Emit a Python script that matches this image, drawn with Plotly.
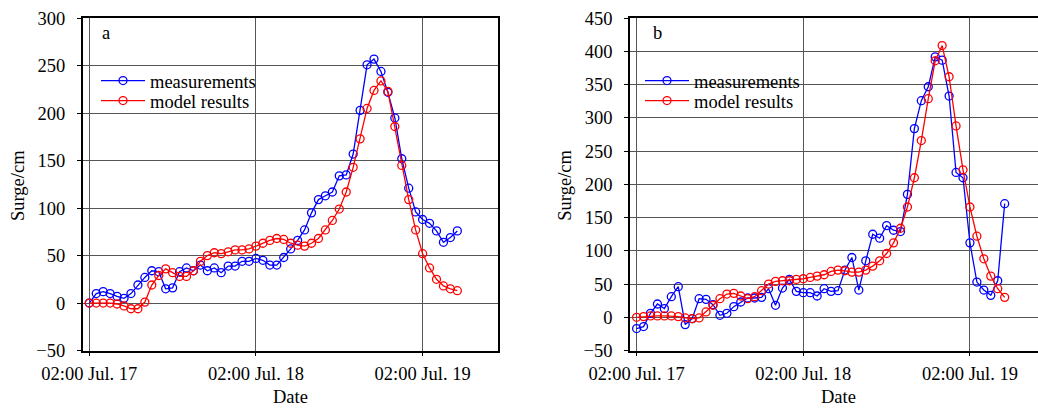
import plotly.graph_objects as go

hours = list(range(54))
tick_vals = [0, 24, 48]
tick_text = ["02:00 Jul. 17", "02:00 Jul. 18", "02:00 Jul. 19"]

meas_a = [0, 10, 12, 10, 7, 5, 10, 19, 27, 34, 33, 15, 16, 33, 37, 34, 40, 34, 37, 32,
          39, 39, 44, 44, 47, 45, 40, 40, 48, 57, 66, 77, 95, 109, 113, 117, 134, 135, 157, 203,
          251, 257, 244, 222, 195, 152, 121, 96, 88, 84, 76, 64, 69, 76]
model_a = [0, 0, 0, 0, -1, -3, -6, -6, 1, 19, 29, 36, 32, 28, 28, 34, 44, 50, 53, 52,
           54, 56, 56, 57, 60, 63, 66, 68, 67, 63, 61, 60, 63, 68, 77, 87, 99, 117, 143, 173,
           205, 224, 234, 223, 186, 145, 109, 77, 52, 37, 25, 18, 15, 13]

meas_b = [-17, -14, 6, 20, 13, 31, 46, -11, -2, 28, 27, 19, 3, 6, 16, 23, 29, 29, 30, 43,
          18, 44, 57, 39, 37, 37, 32, 43, 39, 40, 71, 90, 41, 85, 125, 119, 138, 131, 129, 185,
          284, 326, 347, 392, 387, 333, 218, 210, 112, 53, 41, 33, 55, 171]
model_b = [0, 1, 2, 2, 2, 2, 1, -1, -2, -1, 8, 18, 28, 35, 36, 32, 28, 31, 40, 50,
           54, 55, 55, 57, 58, 60, 62, 64, 69, 71, 70, 68, 68, 71, 77, 85, 96, 112, 134, 166,
           210, 266, 329, 386, 409, 362, 288, 222, 166, 122, 88, 62, 43, 30]

FONT = "Liberation Serif, Times New Roman, serif"
FS = 18.5
BLUE = "#0000ff"
RED = "#ff0000"
W, H = 1038, 409

fig = go.Figure()

def add_series(x, y, name, color, xa, ya, legend):
    fig.add_trace(go.Scatter(
        x=x, y=y, name=name, mode="lines+markers", showlegend=True,
        line=dict(color=color, width=1.3),
        marker=dict(symbol="circle-open", size=8, color=color, line=dict(width=1.3, color=color)),
        xaxis=xa, yaxis=ya, legend=legend))

add_series(hours, meas_a, "measurements", BLUE, "x", "y", "legend")
add_series(hours, model_a, "model results", RED, "x", "y", "legend2")
add_series(hours, meas_b, "measurements", BLUE, "x2", "y2", "legend3")
add_series(hours, model_b, "model results", RED, "x2", "y2", "legend4")

def px_x(p):
    return p / W

def px_y(p):
    return 1 - p / H

ydom = [px_y(350.5), px_y(18.3)]
common_ax = dict(showgrid=True, gridcolor="#555555", gridwidth=1.2, showline=True,
                 linecolor="black", linewidth=1.5, ticks="outside", ticklen=4,
                 tickcolor="black", zeroline=False, automargin=False,
                 tickfont=dict(family=FONT, size=FS, color="black"))

def leg(xp, yp):
    return dict(x=px_x(xp), y=px_y(yp), xanchor="left", yanchor="middle", itemwidth=44,
                bgcolor="rgba(0,0,0,0)", borderwidth=0,
                font=dict(family=FONT, size=FS, color="black"))

fig.update_layout(
    width=W, height=H,
    showlegend=True,
    margin=dict(l=0, r=0, t=0, b=0, pad=0, autoexpand=False),
    paper_bgcolor="white", plot_bgcolor="white",
    font=dict(family=FONT, size=FS, color="black"),
    xaxis=dict(domain=[px_x(82.7), px_x(498.3)], range=[-0.95, 58.9], anchor="y",
               tickvals=tick_vals, ticktext=tick_text, mirror=True, ticklabelstandoff=2,
               **common_ax),
    yaxis=dict(domain=ydom, range=[-50, 300], dtick=50, anchor="x", mirror=True,
               ticklabelstandoff=8, **common_ax),
    xaxis2=dict(domain=[px_x(630), 1.0], range=[-0.95, 57.8], anchor="y2",
                tickvals=tick_vals, ticktext=tick_text, mirror=True, ticklabelstandoff=2,
                **common_ax),
    yaxis2=dict(domain=ydom, range=[-50, 450], dtick=50, anchor="x2", mirror=False,
                ticklabelstandoff=8, **common_ax),
    legend=leg(96, 81),
    legend2=leg(96, 101),
    legend3=leg(640, 81),
    legend4=leg(640, 101),
    annotations=[
        dict(text="a", x=px_x(100), y=px_y(33), xref="paper", yref="paper", showarrow=False,
             xanchor="left", yanchor="middle", font=dict(family=FONT, size=FS)),
        dict(text="b", x=px_x(651), y=px_y(33), xref="paper", yref="paper", showarrow=False,
             xanchor="left", yanchor="middle", font=dict(family=FONT, size=FS)),
        dict(text="Surge/cm", x=px_x(18), y=px_y(185), xref="paper", yref="paper", showarrow=False,
             textangle=-90, xanchor="center", yanchor="middle", font=dict(family=FONT, size=FS)),
        dict(text="Surge/cm", x=px_x(564.7), y=px_y(185), xref="paper", yref="paper", showarrow=False,
             textangle=-90, xanchor="center", yanchor="middle", font=dict(family=FONT, size=FS)),
        dict(text="Date", x=px_x(290), y=0, xref="paper", yref="paper", showarrow=False,
             xanchor="center", yanchor="bottom", font=dict(family=FONT, size=FS)),
        dict(text="Date", x=px_x(838), y=0, xref="paper", yref="paper", showarrow=False,
             xanchor="center", yanchor="bottom", font=dict(family=FONT, size=FS)),
    ],
)

fig.write_html("out.html")
